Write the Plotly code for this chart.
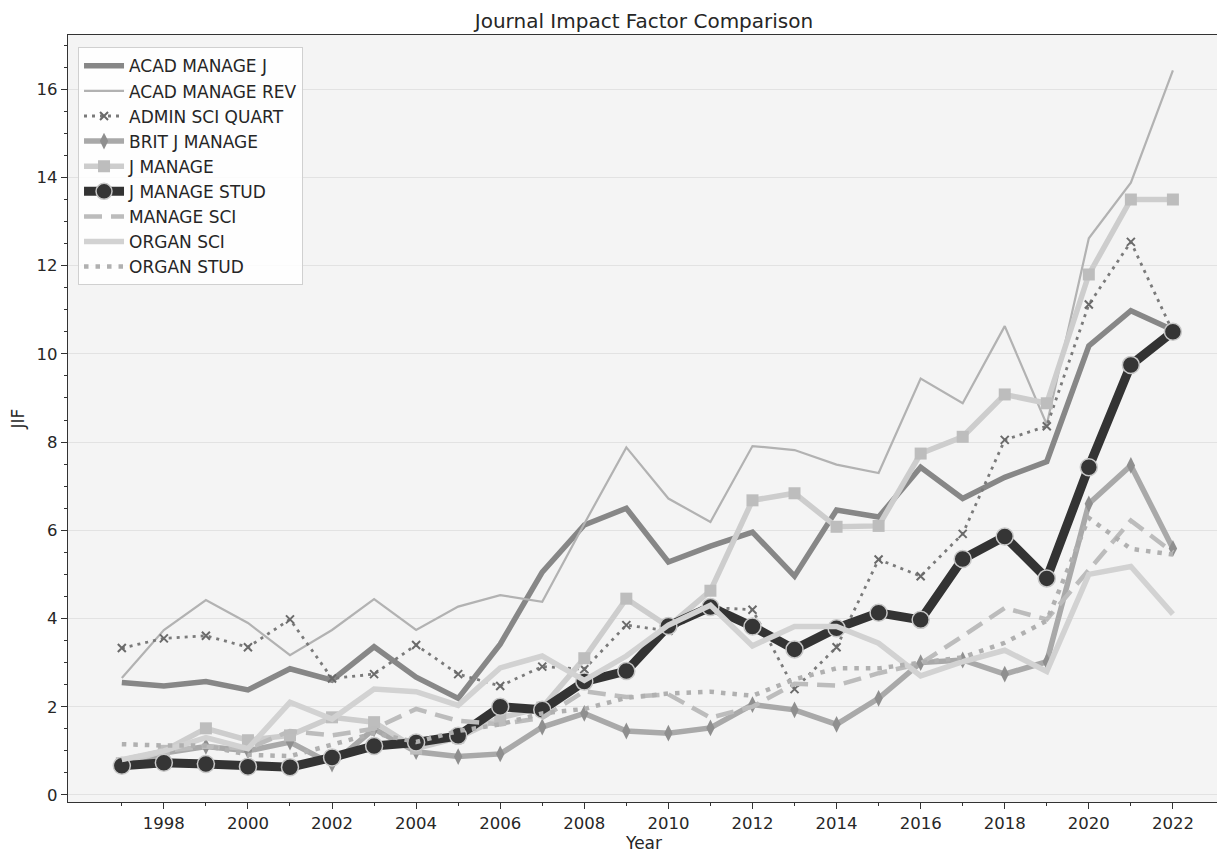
import plotly.graph_objects as go

years = list(range(1997, 2023))
major_year_ticks = list(range(1998, 2023, 2))
minor_year_ticks = list(range(1997, 2022, 2))

acad_manage_j = [2.55, 2.47, 2.57, 2.38, 2.86, 2.60, 3.36, 2.67, 2.19, 3.42, 5.05, 6.12, 6.50, 5.28, 5.64, 5.96,
                 4.96, 6.46, 6.30, 7.43, 6.72, 7.20, 7.56, 10.18, 10.98, 10.54]
acad_manage_rev = [2.65, 3.74, 4.42, 3.90, 3.17, 3.74, 4.44, 3.74, 4.27, 4.53, 4.38, 6.15, 7.88, 6.72, 6.19, 7.91,
                   7.82, 7.49, 7.30, 9.44, 8.88, 10.63, 8.40, 12.62, 13.88, 16.43]
admin_sci_quart = [3.33, 3.55, 3.61, 3.35, 3.98, 2.64, 2.74, 3.40, 2.74, 2.47, 2.91, 2.85, 3.85, 3.72, 4.25, 4.20,
                   2.40, 3.35, 5.34, 4.96, 5.92, 8.05, 8.36, 11.12, 12.54, 10.50]
brit_j_manage = [0.65, 0.95, 1.10, 1.00, 1.20, 0.70, 1.50, 0.98, 0.87, 0.93, 1.54, 1.85, 1.45, 1.40, 1.52, 2.05,
                 1.93, 1.60, 2.19, 3.00, 3.06, 2.74, 3.02, 6.60, 7.47, 5.59]
j_manage = [0.72, 1.00, 1.51, 1.24, 1.35, 1.76, 1.65, 1.05, 1.30, 1.75, 1.98, 3.10, 4.45, 3.82, 4.63, 6.68,
            6.84, 6.08, 6.10, 7.74, 8.12, 9.08, 8.88, 11.80, 13.50, 13.50]
j_manage_stud = [0.66, 0.73, 0.70, 0.64, 0.63, 0.85, 1.11, 1.19, 1.34, 2.00, 1.93, 2.57, 2.81, 3.83, 4.26, 3.82,
                 3.30, 3.78, 4.13, 3.97, 5.35, 5.86, 4.91, 7.43, 9.75, 10.50]
manage_sci = [0.80, 1.00, 1.10, 1.05, 1.45, 1.35, 1.50, 1.95, 1.68, 1.60, 1.75, 2.35, 2.22, 2.28, 1.75, 2.00,
              2.52, 2.48, 2.76, 2.98, 3.60, 4.24, 3.98, 5.10, 6.22, 5.50]
organ_sci = [0.80, 1.00, 1.30, 1.05, 2.10, 1.72, 2.40, 2.34, 2.03, 2.88, 3.15, 2.60, 3.15, 3.85, 4.30, 3.38,
             3.82, 3.82, 3.44, 2.70, 3.02, 3.28, 2.80, 5.00, 5.18, 4.10]
organ_stud = [1.15, 1.12, 1.12, 0.91, 0.88, 1.15, 1.40, 1.20, 1.45, 1.60, 1.85, 1.95, 2.20, 2.30, 2.34, 2.25,
              2.62, 2.87, 2.87, 3.00, 3.12, 3.45, 3.95, 6.28, 5.58, 5.45]

series_names = ["ACAD MANAGE J", "ACAD MANAGE REV", "ADMIN SCI QUART", "BRIT J MANAGE", "J MANAGE",
                "J MANAGE STUD", "MANAGE SCI", "ORGAN SCI", "ORGAN STUD"]
series_values = [acad_manage_j, acad_manage_rev, admin_sci_quart, brit_j_manage, j_manage,
                 j_manage_stud, manage_sci, organ_sci, organ_stud]

styles = [
    dict(line=dict(color="#878787", width=5.5), mode="lines"),
    dict(line=dict(color="#b2b2b2", width=2.2), mode="lines"),
    dict(line=dict(color="#7a7a7a", width=2.8, dash="3px,5px"), mode="lines+markers",
         marker=dict(symbol="x-thin", size=8, color="#6a6a6a", line=dict(color="#6a6a6a", width=2))),
    dict(line=dict(color="#a9a9a9", width=5.5), mode="lines+markers",
         marker=dict(symbol="diamond-tall", size=12, color="#8f8f8f")),
    dict(line=dict(color="#cdcdcd", width=5.5), mode="lines+markers",
         marker=dict(symbol="square", size=12, color="#bdbdbd")),
    dict(line=dict(color="#333333", width=9), mode="lines+markers",
         marker=dict(symbol="circle", size=17, color="#353535", line=dict(color="#c8c8c8", width=1.5))),
    dict(line=dict(color="#bcbcbc", width=4.5, dash="18px,9px"), mode="lines"),
    dict(line=dict(color="#d2d2d2", width=5.5), mode="lines"),
    dict(line=dict(color="#b0b0b0", width=4.5, dash="4.5px,7px"), mode="lines"),
]

fig = go.Figure()
for name, vals, st in zip(series_names, series_values, styles):
    fig.add_trace(go.Scatter(x=years, y=vals, name=name, **st))

# the page body adds an 8px offset, so the figure is drawn 8px smaller with shifted margins
W, H = 1217, 848
font_family = "DejaVu Sans"
fig.update_layout(
    width=W, height=H,
    margin=dict(l=60, r=5, t=27, b=54),
    paper_bgcolor="white",
    plot_bgcolor="#f4f4f4",
    font=dict(family=font_family, color="#262626", size=16),
    title=dict(text="Journal Impact Factor Comparison", x=0.5, xref="paper", xanchor="center",
               y=1 - 12.5 / H, yref="container", yanchor="middle",
               font=dict(size=20, family=font_family, color="#262626")),
    showlegend=True,
    legend=dict(x=0.0087, y=0.984, xanchor="left", yanchor="top",
                bgcolor="rgba(255,255,255,0.85)", bordercolor="#d0d0d0", borderwidth=1,
                font=dict(size=17, family=font_family, color="#262626"),
                tracegroupgap=0, itemwidth=40),
    xaxis=dict(
        range=[1995.72, 2023.12], tickmode="array", tickvals=major_year_ticks,
        showgrid=False, zeroline=False, automargin=False,
        showline=True, linecolor="#333333", linewidth=1.3, mirror=True,
        ticks="outside", ticklen=6, tickwidth=1.3, tickcolor="#333333",
        tickfont=dict(size=16.5),
        minor=dict(tickmode="array", tickvals=minor_year_ticks, ticks="outside", ticklen=3, tickwidth=1,
                   tickcolor="#333333", showgrid=False),
        title=dict(text="Year", font=dict(size=17), standoff=0),
    ),
    yaxis=dict(
        range=[-0.16, 17.23], tick0=0, dtick=2, showgrid=True, gridcolor="#e2e2e2", gridwidth=1,
        zeroline=False, showline=True, linecolor="#333333", linewidth=1.3, mirror=True, automargin=False,
        ticks="outside", ticklen=6, tickwidth=1.3, tickcolor="#333333",
        tickfont=dict(size=16.5),
        minor=dict(dtick=0.5, ticks="outside", ticklen=3, tickwidth=1, tickcolor="#333333", showgrid=False),
        title=dict(text="JIF", font=dict(size=17), standoff=8),
    ),
)

fig.write_html("out.html")
